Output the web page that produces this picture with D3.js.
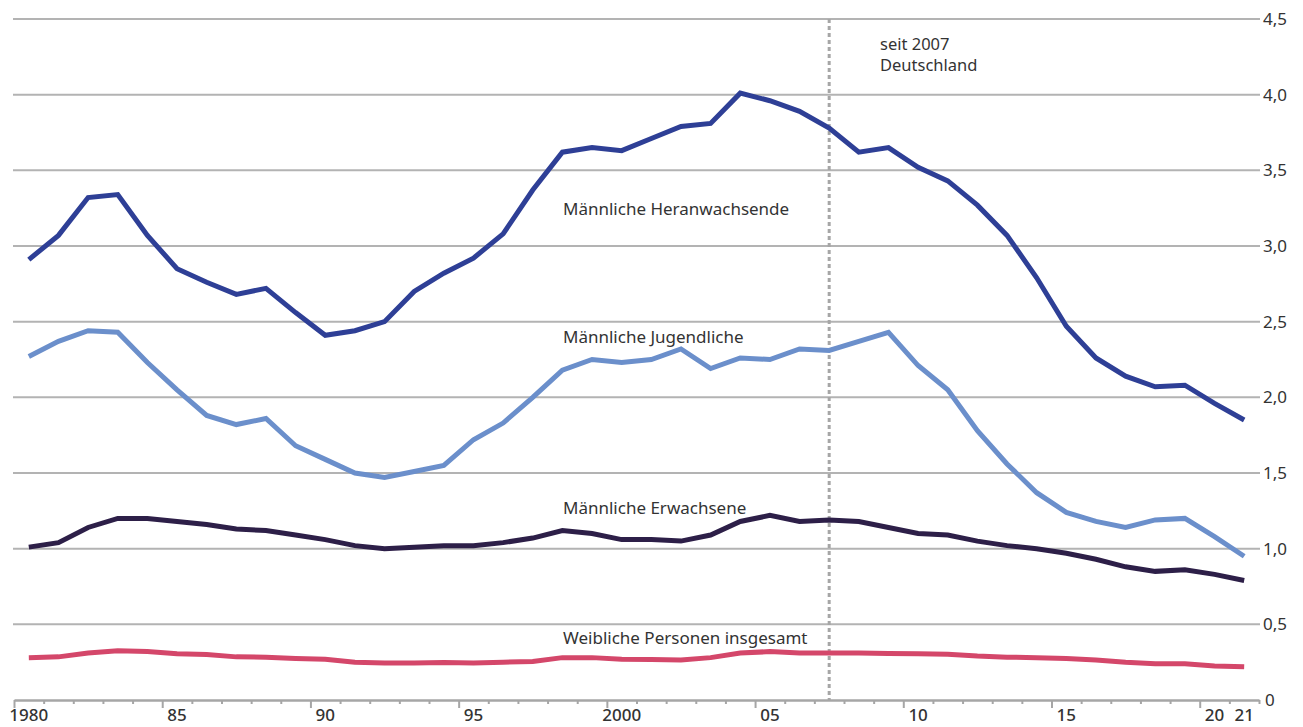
<!DOCTYPE html>
<html>
<head>
<meta charset="utf-8">
<script src="https://cdn.jsdelivr.net/npm/d3@7"></script>
<style>
  body { margin: 0; background: #fff; }
  svg text { font-family: "Noto Sans", sans-serif; fill: #333; }
</style>
</head>
<body>
<div id="chart"></div>
<script>
// years 1980..2021
const years = d3.range(1980, 2022);

const heranwachsende = [2.91, 3.07, 3.32, 3.34, 3.07, 2.85, 2.76, 2.68, 2.72, 2.56,
  2.41, 2.44, 2.50, 2.70, 2.82, 2.92, 3.08, 3.37, 3.62, 3.65,
  3.63, 3.71, 3.79, 3.81, 4.01, 3.96, 3.89, 3.78, 3.62, 3.65,
  3.52, 3.43, 3.27, 3.07, 2.79, 2.47, 2.26, 2.14, 2.07, 2.08,
  1.96, 1.85];
const jugendliche = [2.27, 2.37, 2.44, 2.43, 2.23, 2.05, 1.88, 1.82, 1.86, 1.68,
  1.59, 1.50, 1.47, 1.51, 1.55, 1.72, 1.83, 2.00, 2.18, 2.25,
  2.23, 2.25, 2.32, 2.19, 2.26, 2.25, 2.32, 2.31, 2.37, 2.43,
  2.21, 2.05, 1.78, 1.56, 1.37, 1.24, 1.18, 1.14, 1.19, 1.20,
  1.08, 0.95];
const erwachsene = [1.01, 1.04, 1.14, 1.20, 1.20, 1.18, 1.16, 1.13, 1.12, 1.09,
  1.06, 1.02, 1.00, 1.01, 1.02, 1.02, 1.04, 1.07, 1.12, 1.10,
  1.06, 1.06, 1.05, 1.09, 1.18, 1.22, 1.18, 1.19, 1.18, 1.14,
  1.10, 1.09, 1.05, 1.02, 1.00, 0.97, 0.93, 0.88, 0.85, 0.86,
  0.83, 0.79];
const weibliche = [0.28, 0.285, 0.31, 0.325, 0.32, 0.305, 0.30, 0.285, 0.283, 0.275,
  0.27, 0.25, 0.245, 0.245, 0.248, 0.245, 0.25, 0.255, 0.28, 0.28,
  0.27, 0.268, 0.265, 0.28, 0.31, 0.32, 0.31, 0.31, 0.31, 0.308,
  0.305, 0.303, 0.29, 0.283, 0.28, 0.275, 0.265, 0.25, 0.24, 0.24,
  0.225, 0.22];

const yTicks = [0, 0.5, 1, 1.5, 2, 2.5, 3, 3.5, 4, 4.5];
const xLabelYears = [1980, 1985, 1990, 1995, 2000, 2005, 2010, 2015, 2020, 2021];
const xLabelText = ["1980", "85", "90", "95", "2000", "05", "10", "15", "20", "21"];

const series = [
  { name: "Männliche Heranwachsende", values: heranwachsende, color: "#2e3f96", lx: 563, ly: 215 },
  { name: "Männliche Jugendliche", values: jugendliche, color: "#6b8fcb", lx: 563, ly: 343 },
  { name: "Männliche Erwachsene", values: erwachsene, color: "#2d1f48", lx: 563, ly: 514 },
  { name: "Weibliche Personen insgesamt", values: weibliche, color: "#d4476a", lx: 563, ly: 644 }
];

const svgWidth = 1303, svgHeight = 727;
const svg = d3.select("#chart").append("svg")
  .attr("width", svgWidth).attr("height", svgHeight);

// x: year boundaries, points sit in the middle of each year
const x = d3.scaleLinear().domain([1980, 2022]).range([14, 1259]);
const y = d3.scaleLinear().domain([0, 4.5]).range([700, 19]);

// grid lines
svg.append("g").selectAll("line")
  .data(yTicks.filter(d => d > 0))
  .enter().append("line")
  .attr("x1", 13).attr("x2", 1260)
  .attr("y1", d => y(d)).attr("y2", d => y(d))
  .attr("stroke", "#b3b3b3").attr("stroke-width", 2);

// y labels on the right
svg.append("g").selectAll("text")
  .data(yTicks)
  .enter().append("text")
  .attr("x", d => d === 0 ? 1265 : 1263)
  .attr("y", d => y(d) + 6)
  .attr("font-size", "17px")
  .text(d => d === 0 ? "0" : d3.format(".1f")(d).replace(".", ","));

// x axis
const xAxis = svg.append("g")
  .attr("transform", "translate(0," + y(0) + ")")
  .call(d3.axisBottom(x).tickValues(d3.range(1980, 2023)).tickFormat("").tickSizeOuter(0));
xAxis.select(".domain").attr("stroke", "#a6a6a6").attr("stroke-width", 2.5);
xAxis.selectAll(".tick line")
  .attr("stroke", "#a6a6a6").attr("stroke-width", 2)
  .attr("y2", d => d % 5 === 0 ? 8 : 4);

svg.append("g").selectAll("text")
  .data(xLabelYears)
  .enter().append("text")
  .attr("x", d => x(d + 0.5))
  .attr("y", 721)
  .attr("text-anchor", "middle")
  .attr("font-size", "17px")
  .attr("font-weight", 500)
  .text((d, i) => xLabelText[i]);

// 2007 marker
svg.append("line")
  .attr("x1", x(2007.5)).attr("x2", x(2007.5))
  .attr("y1", y(4.5)).attr("y2", y(0))
  .attr("stroke", "#a6a6a6").attr("stroke-width", 3)
  .attr("stroke-dasharray", "4,3");
svg.append("text").attr("x", 880).attr("y", 50).attr("font-size", "16.5px").text("seit 2007");
svg.append("text").attr("x", 880).attr("y", 71).attr("font-size", "16.5px").text("Deutschland");

// lines
const line = d3.line()
  .x((d, i) => x(years[i] + 0.5))
  .y(d => y(d));

series.forEach(s => {
  svg.append("path")
    .datum(s.values)
    .attr("d", line)
    .attr("fill", "none")
    .attr("stroke", s.color)
    .attr("stroke-width", 5)
    .attr("stroke-linejoin", "miter");
  svg.append("text")
    .attr("x", s.lx).attr("y", s.ly)
    .attr("font-size", "17px")
    .text(s.name);
});
</script>
</body>
</html>
